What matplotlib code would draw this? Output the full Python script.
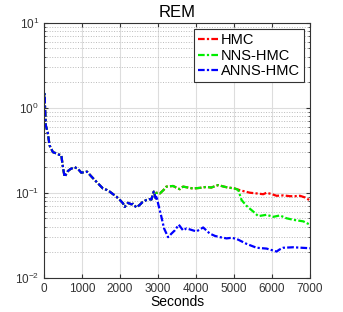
import matplotlib
matplotlib.use("Agg")
import matplotlib.pyplot as plt
from matplotlib.ticker import LogLocator, NullFormatter, FixedLocator

plt.rcParams['font.family'] = ['Liberation Sans', 'DejaVu Sans']

# Shared early segment (all three methods identical)
t_shared = [0, 15, 30, 50, 100, 150, 237, 330, 400, 457, 500, 544, 632, 700, 808, 900, 983,
            1133, 1250, 1378, 1450, 1554, 1650, 1730, 1820, 1905, 2000, 2081, 2125, 2212,
            2300, 2344, 2432, 2520, 2600, 2695, 2780, 2827, 2889, 2941]
v_shared = [1.1, 1.46, 1.0, 0.62, 0.51, 0.36, 0.30, 0.29, 0.28, 0.278, 0.20, 0.154, 0.18,
            0.19, 0.20, 0.19, 0.172, 0.177, 0.155, 0.135, 0.125, 0.112, 0.108, 0.103, 0.096,
            0.090, 0.082, 0.075, 0.068, 0.076, 0.073, 0.074, 0.067, 0.072, 0.078, 0.082,
            0.084, 0.083, 0.103, 0.086]

# HMC / NNS-HMC common middle segment
t_mid = [2960, 3050, 3150, 3222, 3398, 3480, 3573, 3660, 3749, 3924, 4100, 4276, 4400,
         4583, 4700, 4803, 5022]
v_mid = [0.100, 0.098, 0.108, 0.118, 0.120, 0.115, 0.110, 0.118, 0.116, 0.112, 0.114,
         0.117, 0.115, 0.123, 0.119, 0.116, 0.112]

t_hmc_tail = [5154, 5300, 5417, 5600, 5768, 5856, 6000, 6119, 6300, 6470, 6600, 6734, 6866,
              7000]
v_hmc_tail = [0.107, 0.103, 0.100, 0.098, 0.096, 0.100, 0.096, 0.092, 0.093, 0.091, 0.091,
              0.092, 0.088, 0.081]

t_nns_tail = [5110, 5198, 5330, 5505, 5637, 5750, 5856, 6031, 6207, 6383, 6558, 6822, 7000]
v_nns_tail = [0.108, 0.082, 0.070, 0.060, 0.053, 0.054, 0.055, 0.052, 0.054, 0.050, 0.048,
              0.046, 0.042]

t_anns_tail = [2959, 3002, 3090, 3160, 3266, 3354, 3442, 3547, 3661, 3750, 3837, 4012, 4188,
               4364, 4500, 4627, 4803, 4950, 5110, 5330, 5593, 5856, 6119, 6200, 6295, 6558,
               7000]
v_anns_tail = [0.092, 0.075, 0.052, 0.038, 0.030, 0.033, 0.036, 0.042, 0.036, 0.038, 0.037,
               0.035, 0.039, 0.033, 0.031, 0.030, 0.029, 0.0295, 0.028, 0.025, 0.0225, 0.022,
               0.0203, 0.0215, 0.0225, 0.0228, 0.0222]

labels = ['HMC', 'NNS-HMC', 'ANNS-HMC']
colors = ['#ff0000', '#00ee00', '#0000ff']

t_hmc = t_shared + t_mid + t_hmc_tail
v_hmc = v_shared + v_mid + v_hmc_tail
t_nns = t_shared + t_mid + t_nns_tail
v_nns = v_shared + v_mid + v_nns_tail
t_anns = t_shared + t_anns_tail
v_anns = v_shared + v_anns_tail

fig = plt.figure(figsize=(3.43, 3.12), dpi=100)
ax = fig.add_axes([0.128, 0.110, 0.776, 0.817])

for t, v, lab, c in zip([t_hmc, t_nns, t_anns], [v_hmc, v_nns, v_anns], labels, colors):
    ax.plot(t, v, linestyle=(0, (3, 1, 1, 1)), color=c, lw=1.6, label=lab)

ax.set_yscale('log')
ax.set_xlim(0, 7000)
ax.set_ylim(1e-2, 1e1)
ax.set_xticks([0, 1000, 2000, 3000, 4000, 5000, 6000, 7000])
ax.yaxis.set_major_locator(FixedLocator([1e-2, 1e-1, 1e0, 1e1]))
ax.yaxis.set_minor_locator(LogLocator(base=10, subs=range(2, 10)))
ax.yaxis.set_minor_formatter(NullFormatter())

ax.grid(True, which='major', color='#dddddd', linestyle='-', lw=0.8)
ax.grid(True, which='minor', axis='y', color='#bbbbbb', linestyle=':', lw=0.7)
ax.set_axisbelow(True)

ax.tick_params(axis='both', which='both', direction='in', labelsize=8.5,
               colors='#333333', top=True, right=True, length=3)
ax.tick_params(axis='y', which='minor', length=1.5)
for s in ax.spines.values():
    s.set_color('#333333')
    s.set_linewidth(0.8)

ax.set_title('REM', fontsize=12, pad=4)
ax.set_xlabel('Seconds', fontsize=10, labelpad=0)

leg = ax.legend(loc='upper right', fontsize=10.5, handlelength=1.4, handletextpad=0.2,
                borderpad=0.25, labelspacing=0.12, borderaxespad=0.45, fancybox=False,
                framealpha=1, edgecolor='#333333')
leg.get_frame().set_linewidth(0.8)

fig.savefig('out.png', dpi=100)
